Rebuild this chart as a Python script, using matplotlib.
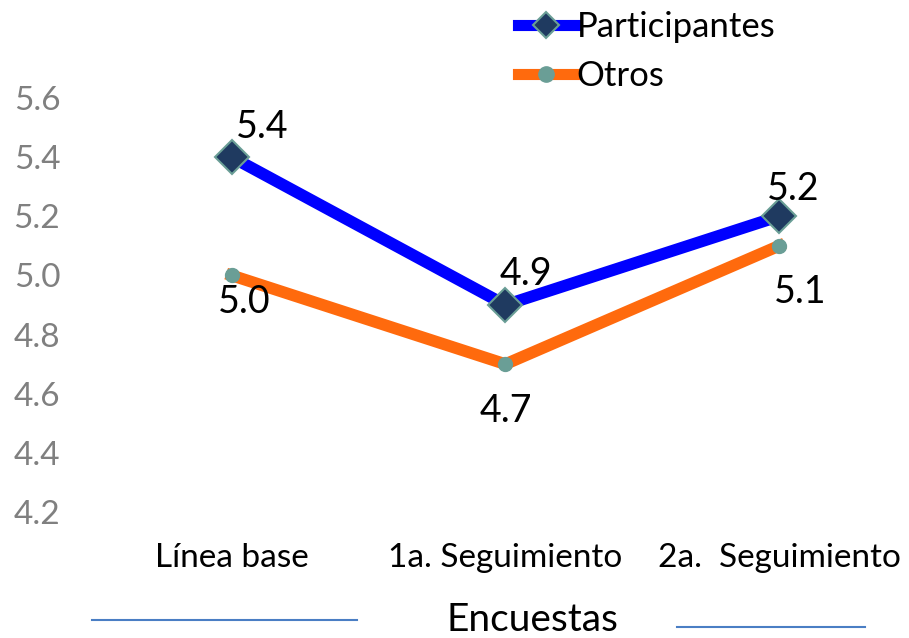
import matplotlib.pyplot as plt
import numpy as np

categorias = ["Línea base", "1a. Seguimiento", "2a.  Seguimiento"]
participantes = [5.4, 4.9, 5.2]
otros = [5.0, 4.7, 5.1]
y_ticks = [4.2, 4.4, 4.6, 4.8, 5.0, 5.2, 5.4, 5.6]

plt.rcParams['font.family'] = ['Lato', 'DejaVu Sans']

fig = plt.figure(figsize=(9.09, 6.38), dpi=100)
ax = fig.add_axes([95 / 909, 126 / 638, 814 / 909, 414 / 638])

x = np.arange(len(categorias))
l1, = ax.plot(x, participantes, color='#0000FF', lw=8.5, marker='D', ms=17,
              mfc='#1F3A60', mec='#6A9E96', mew=1.5, label='Participantes',
              clip_on=False, zorder=3)
l2, = ax.plot(x, otros, color='#FF6A0D', lw=8.5, marker='o', ms=10,
              mfc='#6A9E96', mec='#6A9E96', label='Otros',
              clip_on=False, zorder=3)

# etiquetas de datos
off_p = [(22, 22), (15, 22), (10, 20)]
off_o = [(9, -19), (0, -34), (15, -33)]
for i, v in enumerate(participantes):
    ax.annotate(f"{v:.1f}", (x[i], v), xytext=off_p[i], textcoords='offset points',
                ha='center', va='center', fontsize=27, color='black')
for i, v in enumerate(otros):
    ax.annotate(f"{v:.1f}", (x[i], v), xytext=off_o[i], textcoords='offset points',
                ha='center', va='center', fontsize=27, color='black')

ax.set_xlim(-0.5, 2.475)
ax.set_ylim(4.2, 5.6)
ax.set_yticks(y_ticks)
ax.set_yticklabels([f"{t:.1f}" for t in y_ticks])
ax.set_xticks(x)
ax.set_xticklabels(categorias)
ax.tick_params(axis='y', length=0, pad=25, labelsize=24, labelcolor='#808080')
ax.tick_params(axis='x', length=0, pad=22, labelsize=24, labelcolor='black')
for s in ax.spines.values():
    s.set_visible(False)

fig.text(532 / 909, 1 - 620 / 638, "Encuestas", ha='center', va='center', fontsize=28)
fig.add_artist(plt.Line2D([92 / 909, 357 / 909], [18 / 638, 18 / 638], color='#4A7EC4', lw=1.5))
fig.add_artist(plt.Line2D([677 / 909, 865 / 909], [11 / 638, 11 / 638], color='#4A7EC4', lw=1.5))

leg = fig.legend(handles=[l1, l2], loc='upper left', bbox_to_anchor=(504 / 909, 1.005),
                 frameon=False, fontsize=25, handlelength=1.64, handletextpad=0.05,
                 labelspacing=0.49, borderaxespad=0.0)
for h in leg.legend_handles:
    h.set_linewidth(8)
leg.legend_handles[0].set_markersize(13)
leg.legend_handles[1].set_markersize(11)

fig.savefig("out.png", dpi=100)
